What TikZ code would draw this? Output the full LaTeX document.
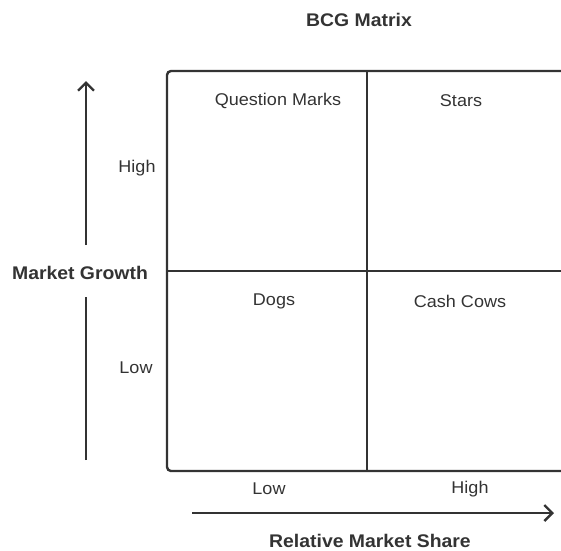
\documentclass[tikz,border=0pt]{standalone}
\usepackage{fontspec}
\setmainfont{Liberation Sans}[FakeStretch=1.06]
\usetikzlibrary{arrows.meta}
\definecolor{linec}{HTML}{333333}
\definecolor{textc}{HTML}{333333}
\tikzset{
  lbl/.style={font=\fontsize{17}{19}\selectfont, text=textc, inner sep=0pt, anchor=center},
  blbl/.style={lbl, font=\fontsize{18.3}{20}\selectfont\bfseries},
  gridline/.style={draw=linec, line width=2.4pt},
  axis/.style={draw=linec, line width=2.4pt, -{Straight Barb[length=8pt,width=16pt,line width=2.4pt]}},
}
\begin{document}
\begin{tikzpicture}[x=1pt,y=-1pt]
\useasboundingbox (0,0) rectangle (561,550);
% frame
\draw[gridline, rounded corners=4pt] (575,71) -- (167,71) -- (167,471) -- (575,471);
\coordinate (tm) at (367,71);
\coordinate (bm) at (367,471);
\coordinate (lm) at (167,271);
\coordinate (rm) at (575,271);
\draw[gridline] (tm) -- (bm);
\draw[gridline] (lm) -- (rm);
% texts
\node[blbl] (title) at (359,20) {BCG Matrix};
\node[lbl] (qm) at (278,101) {Question Marks};
\node[lbl] (st) at (461,101) {Stars};
\node[lbl] (dg) at (274,301) {Dogs};
\node[lbl] (cc) at (460,301) {Cash Cows};
\node[lbl] (hi) at (137,168) {High};
\node[lbl] (lo) at (136,368) {Low};
\node[lbl] (xlo) at (269,489) {Low};
\node[lbl] (xhi) at (470,489) {High};
\node[blbl] (mg) at (80,273) {Market Growth};
\node[blbl] (rms) at (370,541) {Relative Market Share};
% axes
\coordinate (vb) at (86,460);
\coordinate (vg1) at (86,297);
\coordinate (vg2) at (86,245);
\coordinate (vt) at (86,81);
\draw[gridline] (vb) -- (vg1);
\draw[axis] (vg2) -- (vt);
\coordinate (hl) at (192,513);
\coordinate (hr) at (554,513);
\draw[axis] (hl) -- (hr);
\end{tikzpicture}
\end{document}
